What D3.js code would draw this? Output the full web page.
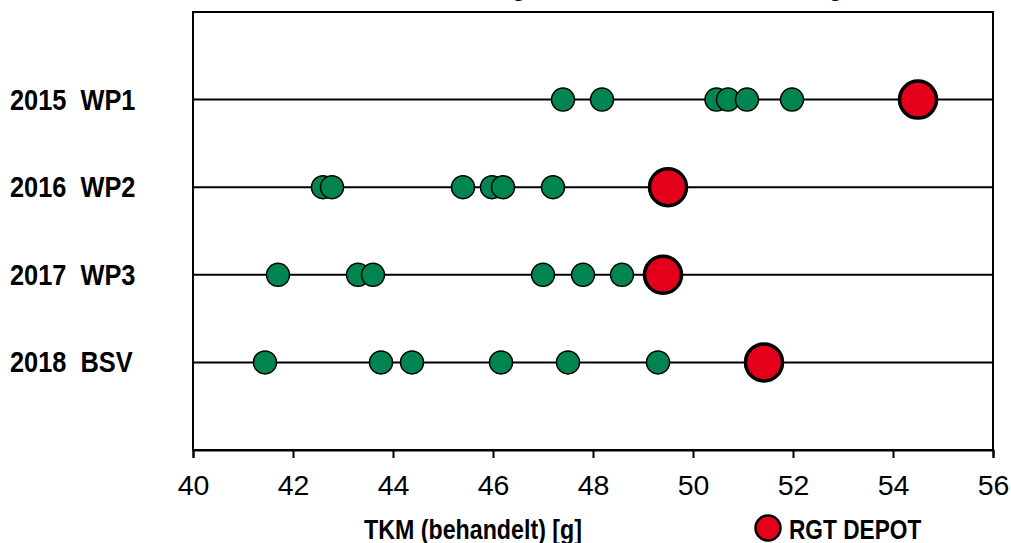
<!DOCTYPE html>
<html><head><meta charset="utf-8">
<script src="https://cdn.jsdelivr.net/npm/d3@7"></script>
<style>
html,body{margin:0;padding:0;background:#fff;}
svg{display:block;font-family:"Liberation Sans",Arial,sans-serif;}
text{white-space:pre;}
</style></head>
<body>
<svg id="chart" width="1011" height="543"></svg>
<script>
const categories = ["2015  WP1", "2016  WP2", "2017  WP3", "2018  BSV"];
const greenValues = [
  [47.4, 48.18, 50.47, 50.7, 51.08, 51.98],
  [42.6, 42.78, 45.4, 45.98, 46.2, 47.2],
  [41.7, 43.3, 43.6, 47.0, 47.8, 48.58],
  [41.44, 43.76, 44.38, 46.16, 47.5, 49.3]
];
const redValues = [54.5, 49.5, 49.4, 51.42];
const xTicks = [40, 42, 44, 46, 48, 50, 52, 54, 56];
const xTitle = "TKM (behandelt) [g]";
const legendLabel = "RGT DEPOT";
const chartTitle = "TKM: Vergleich der Sorten zum Ertrag";

const svg = d3.select("#chart");
const L = 193, R = 993, T = 12, B = 450;
const x = d3.scaleLinear().domain([40, 56]).range([L, R]);
const y = d3.scaleLinear().domain([0, categories.length + 1]).range([T, B]);

// title (cut off at the top edge, only descenders visible)
const title = svg.append("text").attr("font-size", 28).attr("font-weight", "bold").text(chartTitle);
{
  const node = title.node();
  const i1 = chartTitle.indexOf("g"), i2 = chartTitle.indexOf("g", i1 + 1);
  const p1 = node.getStartPositionOfChar(i1).x, p2 = node.getStartPositionOfChar(i2).x;
  const sx = (835 - 518) / (p2 - p1);
  title.attr("transform", `translate(${518 - p1 * sx - 7.5 * sx},-5.5) scale(${sx},1)`);
}

// row lines
svg.append("g").selectAll("line").data(categories).join("line")
  .attr("x1", L).attr("x2", R)
  .attr("y1", (d, i) => y(i + 1)).attr("y2", (d, i) => y(i + 1))
  .attr("stroke", "#000").attr("stroke-width", 2);

// frame
svg.append("rect").attr("x", L).attr("y", T).attr("width", R - L).attr("height", B - T)
  .attr("fill", "none").attr("stroke", "#000").attr("stroke-width", 2);

// x axis
const xAxis = svg.append("g").attr("transform", `translate(0,${B})`)
  .call(d3.axisBottom(x).tickValues(xTicks).tickSize(8).tickPadding(17).tickFormat(d3.format("d")));
xAxis.select(".domain").attr("stroke-width", 2);
xAxis.selectAll(".tick line").attr("stroke-width", 2);
xAxis.selectAll("text").attr("font-size", 28.5).attr("font-family", "Liberation Sans, Arial, sans-serif").attr("fill", "#000");

// row labels
svg.append("g").selectAll("text").data(categories).join("text")
  .attr("transform", (d, i) => `translate(10,${y(i + 1) + 10}) scale(0.86,1)`)
  .attr("font-size", 29.5).attr("font-weight", "bold").text(d => d);

// green points
greenValues.forEach((vals, i) => {
  svg.append("g").selectAll("circle").data(vals).join("circle")
    .attr("cx", d => x(d)).attr("cy", y(i + 1)).attr("r", 11.5)
    .attr("fill", "#008550").attr("stroke", "#000").attr("stroke-width", 1.5);
});

// red points
svg.append("g").selectAll("circle").data(redValues).join("circle")
  .attr("cx", d => x(d)).attr("cy", (d, i) => y(i + 1)).attr("r", 18.5)
  .attr("fill", "#e2001a").attr("stroke", "#000").attr("stroke-width", 3.5);

// x title
svg.append("text").attr("transform", "translate(473,539) scale(0.86,1)")
  .attr("text-anchor", "middle").attr("font-size", 27).attr("font-weight", "bold").text(xTitle);

// legend
svg.append("circle").attr("cx", 768).attr("cy", 528).attr("r", 12.5)
  .attr("fill", "#e2001a").attr("stroke", "#000").attr("stroke-width", 2.5);
svg.append("text").attr("transform", "translate(789,539) scale(0.84,1)")
  .attr("font-size", 27).attr("font-weight", "bold").text(legendLabel);
</script>
</body></html>
